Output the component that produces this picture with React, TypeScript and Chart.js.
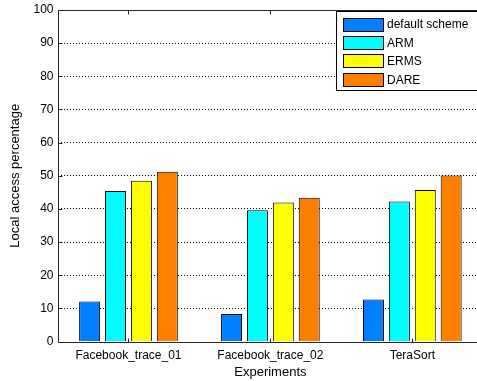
import React, { useEffect, useRef } from 'react';
import { Chart, registerables } from 'chart.js';

Chart.register(...registerables);

const categories = ['Facebook_trace_01', 'Facebook_trace_02', 'TeraSort'];
const seriesNames = ['default scheme', 'ARM', 'ERMS', 'DARE'];
const defaultScheme = [12.1, 8.3, 12.7];
const arm = [45.4, 39.6, 42.2];
const erms = [48.5, 41.9, 45.7];
const dare = [51.2, 43.4, 50.1];
const seriesColors = ['#0080FF', '#00FFFF', '#FFFF00', '#FF8000'];
const yMin = 0;
const yMax = 100;
const yStep = 10;
const yTitle = 'Local access percentage';
const xTitle = 'Experiments';

const FONT = '"Liberation Sans", Arial, Helvetica, sans-serif';
const AXIS_COLOR = '#262626';

const framePlugin = {
  id: 'matlabFrame',
  afterDraw(chart: any) {
    const { ctx, chartArea } = chart;
    const { left, right, top, bottom } = chartArea;
    const xs = chart.scales.x;
    const ys = chart.scales.y;
    ctx.save();
    ctx.strokeStyle = AXIS_COLOR;
    ctx.lineWidth = 1;
    ctx.setLineDash([]);
    const lx = Math.round(left) + 0.5;
    const by0 = Math.round(bottom) + 0.5;
    const ty = Math.round(top) + 0.5;
    // frame: top, left, bottom
    ctx.beginPath();
    ctx.moveTo(lx, ty);
    ctx.lineTo(right, ty);
    ctx.moveTo(lx, ty);
    ctx.lineTo(lx, by0);
    ctx.lineTo(right, by0);
    ctx.stroke();
    // y ticks inside
    ys.ticks.forEach((t: any) => {
      const y = Math.round(ys.getPixelForValue(t.value)) + 0.5;
      ctx.beginPath();
      ctx.moveTo(lx, y);
      ctx.lineTo(lx + 4, y);
      ctx.stroke();
    });
    // x ticks inside (top and bottom)
    categories.forEach((_, i) => {
      const x = Math.round(xs.getPixelForValue(i)) + 0.5;
      ctx.beginPath();
      ctx.moveTo(x, by0);
      ctx.lineTo(x, by0 - 4);
      ctx.moveTo(x, ty);
      ctx.lineTo(x, ty + 4);
      ctx.stroke();
    });
    // legend box
    const bx = 336.5;
    const by = 11.5;
    const bw = 150;
    const bh = 79;
    ctx.fillStyle = '#ffffff';
    ctx.fillRect(bx, by, bw, bh);
    ctx.strokeStyle = '#000';
    ctx.strokeRect(bx, by, bw, bh);
    ctx.font = '12px ' + FONT;
    ctx.textBaseline = 'middle';
    ctx.textAlign = 'left';
    chart.data.datasets.forEach((ds: any, i: number) => {
      const cy = 24 + i * 18.4;
      const sy = Math.round(cy - 6.5) + 0.5;
      ctx.fillStyle = ds.backgroundColor;
      ctx.fillRect(343.5, sy, 40, 13);
      ctx.strokeStyle = '#000';
      ctx.strokeRect(343.5, sy, 40, 13);
      ctx.fillStyle = '#000';
      ctx.fillText(ds.label, 387, cy + 1);
    });
    ctx.restore();
  },
};

export default function App() {
  const ref = useRef<HTMLCanvasElement | null>(null);

  useEffect(() => {
    if (!ref.current) return;
    Chart.defaults.font.family = FONT;
    const seriesValues = [defaultScheme, arm, erms, dare];
    const chart = new Chart(ref.current, {
      type: 'bar',
      data: {
        labels: categories,
        datasets: seriesNames.map((name, i) => ({
          label: name,
          data: seriesValues[i],
          backgroundColor: seriesColors[i],
          borderColor: '#000',
          borderWidth: 1,
          barPercentage: 0.81,
          categoryPercentage: 0.73,
        })),
      },
      options: {
        animation: false,
        responsive: false,
        devicePixelRatio: 1,
        layout: { padding: { top: 6, right: 6.7, left: 0, bottom: 0 } },
        plugins: {
          legend: { display: false },
          tooltip: { enabled: false },
        },
        scales: {
          x: {
            type: 'category',
            grid: { display: false, drawTicks: false },
            border: { display: false },
            ticks: { color: '#000', font: { size: 12 }, padding: 7, maxRotation: 0, autoSkip: false },
            title: { display: true, text: xTitle, color: '#000', font: { size: 13 }, padding: { top: 0, bottom: 0.5 } },
            afterFit: (scale: any) => {
              scale.height = 39.5;
            },
          },
          y: {
            type: 'linear',
            min: yMin,
            max: yMax,
            grid: {
              drawTicks: false,
              color: (c: any) =>
                c.tick && (c.tick.value === yMin || c.tick.value === yMax) ? 'rgba(0,0,0,0)' : '#000',
              lineWidth: 1,
            },
            border: { display: false, dash: [1, 2] },
            ticks: { stepSize: yStep, color: '#000', font: { size: 12, lineHeight: 1 }, padding: 4 },
            title: { display: true, text: yTitle, color: '#000', font: { size: 13 }, padding: { top: 8, bottom: 0 } },
            afterFit: (scale: any) => {
              scale.width = 57.5;
            },
          },
        },
      },
      plugins: [framePlugin],
    });
    return () => chart.destroy();
  }, []);

  return (
    <div
      style={{
        position: 'fixed',
        left: 0,
        top: 0,
        width: 477,
        height: 381,
        overflow: 'hidden',
        background: '#fff',
      }}
    >
      <canvas ref={ref} width={490} height={381} style={{ display: 'block' }} />
    </div>
  );
}
